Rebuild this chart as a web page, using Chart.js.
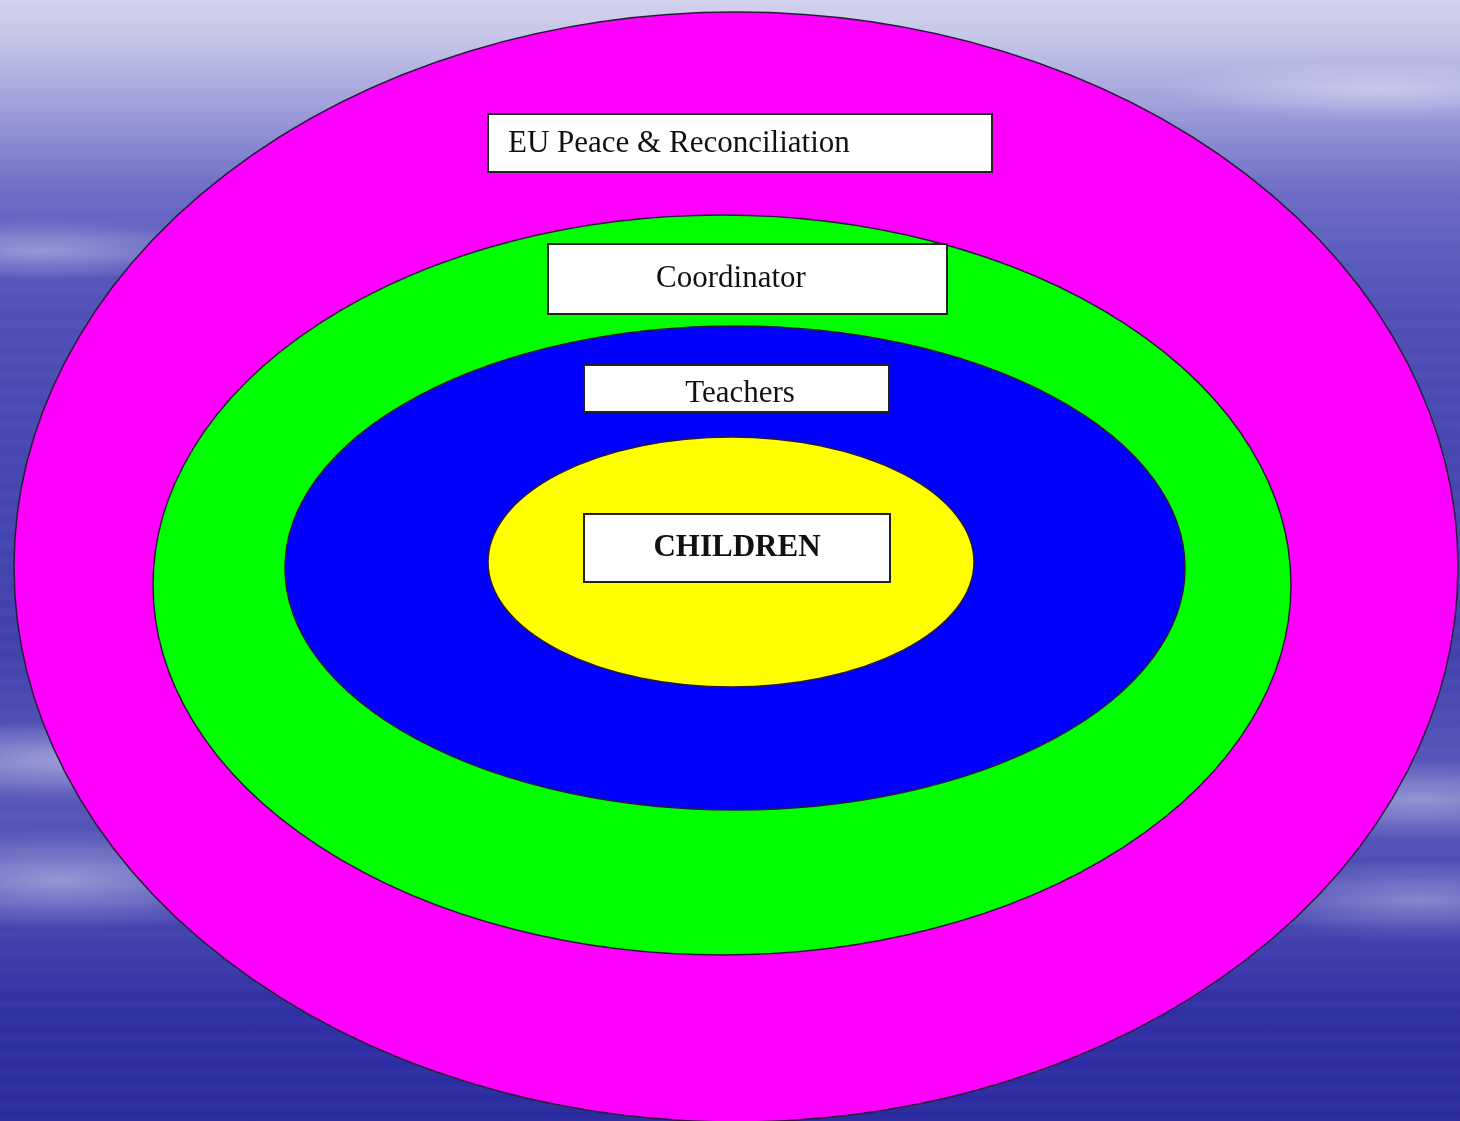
<!DOCTYPE html>
<html>
<head>
<meta charset="utf-8">
<script src="https://cdn.jsdelivr.net/npm/chart.js@4.4.1/dist/chart.umd.min.js"></script>
<style>
  html, body { margin: 0; padding: 0; }
  body {
    width: 1460px; height: 1121px; overflow: hidden;
    background:
      radial-gradient(ellipse 260px 40px at 80px 760px, rgba(220,220,245,0.55), rgba(220,220,245,0)),
      radial-gradient(ellipse 240px 50px at 60px 880px, rgba(220,220,245,0.5), rgba(220,220,245,0)),
      radial-gradient(ellipse 200px 30px at 40px 250px, rgba(220,220,245,0.45), rgba(220,220,245,0)),
      radial-gradient(ellipse 220px 40px at 1420px 800px, rgba(220,220,245,0.45), rgba(220,220,245,0)),
      radial-gradient(ellipse 200px 40px at 1420px 900px, rgba(220,220,245,0.4), rgba(220,220,245,0)),
      radial-gradient(ellipse 220px 30px at 1380px 90px, rgba(230,230,250,0.5), rgba(230,230,250,0)),
      repeating-linear-gradient(180deg, rgba(255,255,255,0.03) 0px, rgba(255,255,255,0) 9px, rgba(255,255,255,0.025) 17px),
      linear-gradient(180deg, #d2d2ee 0px, #c4c4e8 40px, #9c9cda 110px, #6c6cc6 190px, #5050b8 300px,
        #4646b2 450px, #4040ae 650px, #5858ba 780px, #4a4ab4 900px, #3030a6 1000px, #2a2aa0 1121px);
  }
  #wrap { position: absolute; left: 0; top: 0; width: 1460px; height: 1121px; }
</style>
</head>
<body>
<div id="wrap"><canvas id="chart"></canvas></div>
<script>
// nested rings, outermost first (centre x, centre y, half width, half height)
const RING_NAMES = ['EU Peace & Reconciliation', 'Coordinator', 'Teachers', 'CHILDREN'];
const RING_COLORS = ['#ff00ff', '#00ff00', '#0000ff', '#ffff00'];
const RING_CX = [736, 722, 735, 731];
const RING_CY = [567, 585, 568, 562];
const RING_RX = [722, 569, 450, 243];
const RING_RY = [555, 370, 242, 125];

// label boxes (left, top, right, bottom) and the text anchor
const BOX_LEFT = [488, 548, 584, 584];
const BOX_TOP = [114, 244, 365, 514];
const BOX_RIGHT = [992, 947, 889, 890];
const BOX_BOTTOM = [172, 314, 412, 582];
const TEXT_X = [508, 731, 740, 737];
const TEXT_Y = [141, 276, 391, 545];
const TEXT_ALIGN = ['left', 'center', 'center', 'center'];
const TEXT_BOLD = [false, false, false, true];

const ringsPlugin = {
  id: 'rings',
  beforeDatasetsDraw(chart) {
    const ctx = chart.ctx;
    const xs = chart.scales.x;
    const ys = chart.scales.y;
    ctx.save();
    for (let i = 0; i < RING_NAMES.length; i++) {
      const cx = xs.getPixelForValue(RING_CX[i]);
      const cy = ys.getPixelForValue(RING_CY[i]);
      const rx = Math.abs(xs.getPixelForValue(RING_CX[i] + RING_RX[i]) - cx);
      const ry = Math.abs(ys.getPixelForValue(RING_CY[i] + RING_RY[i]) - cy);
      ctx.beginPath();
      ctx.ellipse(cx, cy, rx, ry, 0, 0, Math.PI * 2);
      ctx.fillStyle = RING_COLORS[i];
      ctx.fill();
      ctx.lineWidth = 1.5;
      ctx.strokeStyle = '#2a1a3a';
      ctx.stroke();
    }
    for (let i = 0; i < RING_NAMES.length; i++) {
      const l = xs.getPixelForValue(BOX_LEFT[i]);
      const r = xs.getPixelForValue(BOX_RIGHT[i]);
      const t = ys.getPixelForValue(BOX_TOP[i]);
      const b = ys.getPixelForValue(BOX_BOTTOM[i]);
      ctx.fillStyle = '#ffffff';
      ctx.fillRect(l, t, r - l, b - t);
      ctx.lineWidth = 2;
      ctx.strokeStyle = '#222222';
      ctx.strokeRect(l, t, r - l, b - t);
      ctx.fillStyle = '#111111';
      ctx.font = (TEXT_BOLD[i] ? 'bold ' : '') + '31px "Liberation Serif", serif';
      ctx.textAlign = TEXT_ALIGN[i];
      ctx.textBaseline = 'middle';
      ctx.fillText(RING_NAMES[i], xs.getPixelForValue(TEXT_X[i]), ys.getPixelForValue(TEXT_Y[i]) + 3);
    }
    ctx.restore();
  }
};

new Chart(document.getElementById('chart'), {
  type: 'scatter',
  data: {
    datasets: [{
      label: 'centres',
      data: RING_CX.map((x, i) => ({ x: x, y: RING_CY[i] })),
      pointRadius: 0,
    }],
  },
  options: {
    responsive: true,
    maintainAspectRatio: false,
    animation: false,
    layout: { padding: 0 },
    plugins: { legend: { display: false }, tooltip: { enabled: false } },
    scales: {
      x: { type: 'linear', min: 0, max: 1460, display: false },
      y: { type: 'linear', min: 0, max: 1121, reverse: true, display: false },
    },
  },
  plugins: [ringsPlugin],
});
</script>
</body>
</html>
